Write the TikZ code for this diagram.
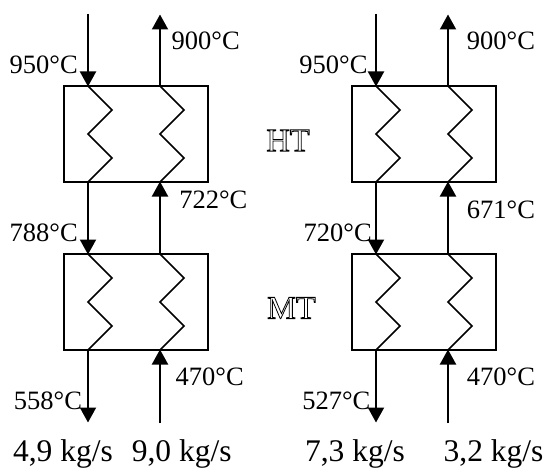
\documentclass[tikz,border=0pt]{standalone}
\usepackage{fontspec}
\setmainfont{Liberation Serif}
\usetikzlibrary{arrows.meta}
\newcommand{\hollowtext}[1]{\special{pdf:literal q 0.8 w 1 Tr}#1\special{pdf:literal 0 Tr Q}}
\tikzset{
  x=1pt,y=-1pt,
  flow/.style={line width=2pt,-{Triangle[length=15pt,width=16pt]},shorten >=-0.5pt},
  hx/.style={draw,line width=1.8pt,minimum width=144pt,minimum height=96pt,inner sep=0pt,outer sep=0pt},
  coil/.style={line width=1.7pt,miter limit=10},
  temp/.style={font=\fontsize{26.5}{30}\selectfont,inner sep=0pt},
  rate/.style={font=\fontsize{31.5}{36}\selectfont,inner sep=0pt},
  stage/.style={font=\fontsize{32.5}{36}\selectfont,inner sep=0pt}
}
\begin{document}
\begin{tikzpicture}
\useasboundingbox (0,0) rectangle (546,468);
% exchangers
\node[hx] (A) at (136,134) {};
\node[hx] (B) at (136,302) {};
\node[hx] (C) at (424,134) {};
\node[hx] (D) at (424,302) {};
% coordinates and coils
\foreach \n/\xa/\xb/\ya in {A/88/160/86,B/88/160/254,C/376/448/86,D/376/448/254}{
  \coordinate (\n lt) at (\xa,\ya);
  \coordinate (\n rt) at (\xb,\ya);
  \coordinate (\n lb) at (\xa,\ya+96);
  \coordinate (\n rb) at (\xb,\ya+96);
  \draw[coil] (\n lt) -- ++(24,24) -- ++(-24,24) -- ++(24,24) -- (\n lb);
  \draw[coil] (\n rt) -- ++(24,24) -- ++(-24,24) -- ++(24,24) -- (\n rb);
}
\coordinate (a1) at (88,14);
\coordinate (a2) at (160,15);
\coordinate (b1) at (88,422);
\coordinate (b2) at (160,423);
\coordinate (c1) at (376,14);
\coordinate (c2) at (448,15);
\coordinate (d1) at (376,422);
\coordinate (d2) at (448,423);
% streams
\draw[flow] (a1) -- (Alt);
\draw[flow] (Art) -- (a2);
\draw[flow] (Alb) -- (Blt);
\draw[flow] (Brt) -- (Arb);
\draw[flow] (Blb) -- (b1);
\draw[flow] (b2) -- (Brb);
\draw[flow] (c1) -- (Clt);
\draw[flow] (Crt) -- (c2);
\draw[flow] (Clb) -- (Dlt);
\draw[flow] (Drt) -- (Crb);
\draw[flow] (Dlb) -- (d1);
\draw[flow] (d2) -- (Drb);
% temperatures
\node[temp] (t1) at (43.7,65) {950°C};
\node[temp] (t2) at (205.7,41) {900°C};
\node[temp] (t3) at (213.3,200.3) {722°C};
\node[temp] (t4) at (43.7,232.7) {788°C};
\node[temp] (t5) at (209.7,377) {470°C};
\node[temp] (t6) at (48,400.5) {558°C};
\node[temp] (t7) at (333.5,65) {950°C};
\node[temp] (t8) at (501,41) {900°C};
\node[temp] (t9) at (501,209.5) {671°C};
\node[temp] (t10) at (337.7,232.7) {720°C};
\node[temp] (t11) at (501,377) {470°C};
\node[temp] (t12) at (336.3,400.5) {527°C};
% flow rates
\node[rate] (r1) at (63,454.4) {4,9 kg/s};
\node[rate] (r2) at (181.7,454.4) {9,0 kg/s};
\node[rate] (r3) at (355,454.4) {7,3 kg/s};
\node[rate] (r4) at (493.5,454.4) {3,2 kg/s};
% stage labels
\node[stage] (ht) at (288,140.5) {\hollowtext{HT}};
\node[stage] (mt) at (291.5,308) {\hollowtext{MT}};
\end{tikzpicture}
\end{document}
